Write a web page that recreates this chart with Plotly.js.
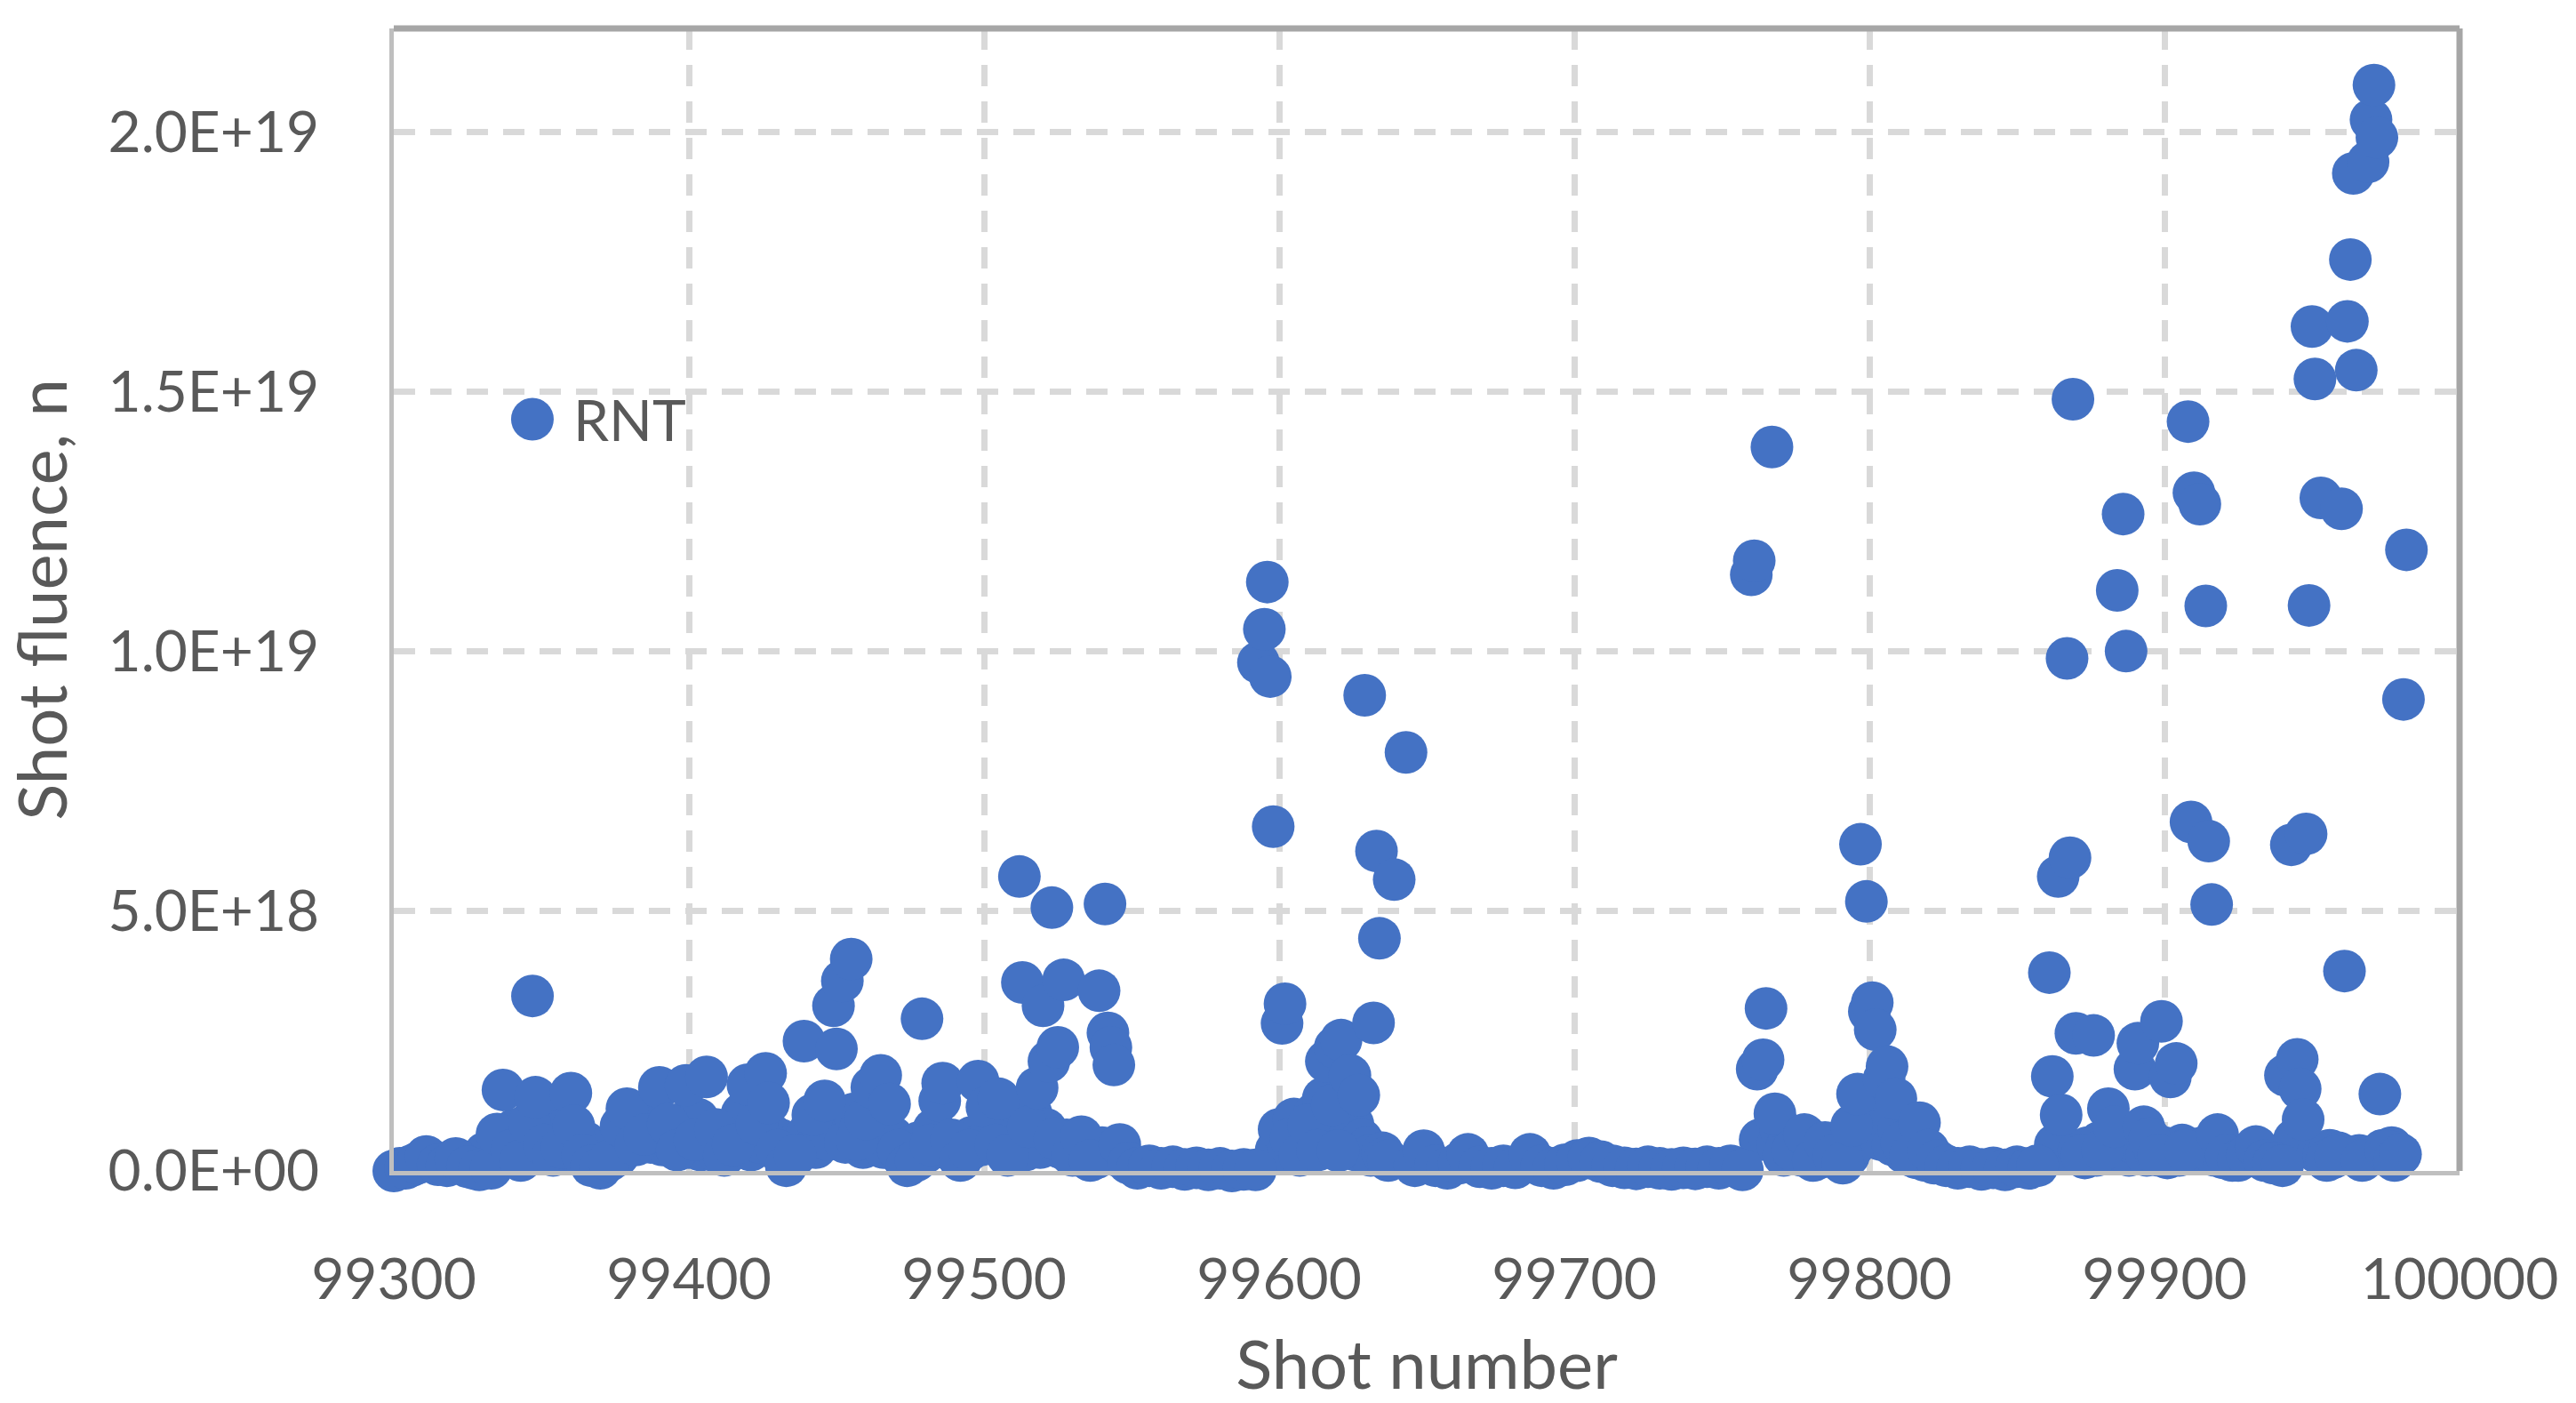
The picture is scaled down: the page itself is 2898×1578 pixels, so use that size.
<!DOCTYPE html>
<html>
<head>
<meta charset="utf-8">
<script src="https://cdn.plot.ly/plotly-3.0.1.min.js"></script>
<style>html,body{margin:0;padding:0;background:#fff;}#chart{width:2898px;height:1578px;}</style>
</head>
<body>
<div id="chart"></div>
<script>
// Shot numbers (x) and shot fluence in units of 1E18 n (y)
const shotNumber = [
  99300,99304,99308,99311,99315,99318,99321,99325,99329,99333,99335,99337,99340,99343,99346,99347,99348,99351,99354,99357,
  99360,99361,99364,99367,99370,99373,99377,99379,99382,99385,99390,99393,99396,99399,99402,99406,99409,99412,99415,99420,
  99423,99426,99427,99430,99433,99436,99439,99442,99446,99449,99450,99452,99455,99457,99460,99462,99465,99468,99471,99474,
  99477,99479,99482,99485,99486,99489,99492,99495,99498,99501,99504,99505,99508,99512,99513,99515,99518,99520,99522,99523,
  99524,99525,99527,99530,99533,99536,99539,99541,99542,99543,99544,99546,99549,99552,99556,99560,99564,99568,99572,99576,
  99580,99584,99588,99592,99593,99595,99596,99597,99598,99601,99602,99604,99607,99610,99613,99616,99618,99619,99620,99621,
  99624,99627,99629,99632,99633,99634,99637,99639,99643,99646,99649,99653,99657,99661,99664,99668,99672,99676,99680,99685,
  99689,99693,99697,99701,99705,99709,99713,99717,99721,99725,99729,99733,99737,99741,99745,99749,99753,99757,99760,99761,
  99762,99764,99765,99767,99768,99771,99774,99778,99781,99785,99788,99791,99794,99796,99797,99799,99800,99801,99802,99805,
  99806,99809,99811,99814,99817,99820,99823,99826,99830,99834,99838,99842,99846,99850,99854,99857,99861,99862,99864,99865,
  99867,99868,99869,99870,99872,99876,99879,99881,99883,99884,99886,99887,99890,99891,99893,99895,99898,99899,99902,99904,
  99907,99908,99909,99910,99912,99914,99915,99916,99918,99921,99925,99928,99931,99934,99937,99940,99941,99943,99945,99946,
  99947,99948,99949,99950,99951,99953,99955,99958,99960,99961,99962,99963,99964,99965,99967,99969,99970,99971,99972,99973,
  99975,99978,99980,99981,99982
];
const fluenceE18 = [
  0.00,0.05,0.15,0.28,0.12,0.10,0.24,0.08,0.02,0.05,0.71,1.56,0.40,0.20,0.92,3.37,1.42,0.50,0.30,0.45,
  1.50,0.87,0.30,0.10,0.05,0.20,0.86,1.20,0.50,0.70,1.61,0.90,0.40,1.65,0.60,1.81,0.80,0.30,0.50,1.66,
  0.90,1.88,1.31,0.40,0.10,0.30,2.50,1.08,1.35,3.18,2.35,3.66,4.08,0.60,1.00,1.61,1.84,1.29,0.40,0.10,
  0.20,2.93,0.50,1.35,1.69,0.60,0.20,0.40,1.73,1.23,0.50,1.39,0.30,5.67,3.63,0.85,1.60,3.18,2.11,5.07,
  0.62,2.38,3.68,0.30,0.66,0.20,3.47,5.14,2.66,2.38,2.04,0.51,0.15,0.05,0.10,0.05,0.08,0.03,0.06,0.02,
  0.05,0.00,0.03,0.02,9.79,10.43,11.34,9.52,6.63,2.84,3.22,0.62,0.30,0.89,0.40,2.11,1.27,2.38,0.39,2.52,
  1.84,1.46,9.16,2.85,6.16,4.48,0.20,5.61,8.06,0.10,0.39,0.10,0.05,0.15,0.32,0.08,0.05,0.10,0.06,0.32,
  0.10,0.05,0.12,0.20,0.25,0.18,0.10,0.06,0.04,0.08,0.05,0.03,0.06,0.04,0.08,0.05,0.10,0.02,11.48,11.75,
  1.96,2.14,3.13,13.94,1.10,0.30,0.40,0.70,0.20,0.55,0.30,0.15,0.87,1.48,6.29,5.19,3.07,3.24,2.72,1.77,
  2.01,1.39,0.55,0.30,0.93,0.40,0.20,0.10,0.05,0.08,0.03,0.06,0.02,0.08,0.05,0.10,3.82,1.82,5.67,1.08,
  9.87,6.03,14.86,2.65,0.30,2.61,0.40,1.20,0.85,11.18,12.65,10.01,1.96,2.46,0.85,0.62,0.30,2.88,1.81,2.07,
  0.40,14.43,6.72,13.06,12.84,10.88,6.35,5.13,0.70,0.30,0.20,0.30,0.47,0.20,0.15,0.10,1.84,6.28,2.15,1.58,
  0.99,6.49,10.89,16.26,15.25,12.96,0.20,0.28,12.75,3.85,16.36,17.55,19.21,15.42,0.20,19.43,20.24,20.91,19.90,1.48,
  0.39,0.20,0.32,9.08,11.96
];
// Further low-fluence shots that make up the dense band near zero
const lowShotNumber = [
  99302,99306,99313,99320,99323,99327,99331,99336,99338,99341,99344,99349,99352,99355,99358,99362,99365,99374,99376,99380,
  99383,99387,99388,99391,99394,99397,99400,99403,99404,99407,99410,99413,99417,99418,99421,99424,99428,99431,99434,99437,
  99440,99443,99444,99447,99451,99453,99456,99458,99459,99463,99466,99469,99472,99475,99478,99480,99483,99487,99490,99493,
  99496,99499,99502,99506,99509,99510,99514,99516,99517,99519,99521,99526,99528,99529,99531,99532,99534,99535,99537,99538,
  99540,99545,99547,99599,99600,99603,99605,99606,99608,99609,99611,99612,99614,99615,99617,99622,99623,99625,99626,99628,
  99630,99631,99635,99636,99763,99766,99769,99770,99772,99773,99775,99776,99777,99779,99780,99782,99783,99786,99787,99789,
  99792,99793,99795,99798,99803,99804,99807,99808,99810,99812,99813,99815,99816,99818,99819,99821,99822,99863,99866,99871,
  99873,99874,99877,99878,99880,99882,99885,99888,99889,99892,99894,99896,99897,99900,99901,99903,99905,99906,99911,99913,
  99917,99919,99920,99922,99923,99942,99944,99952,99954,99956,99957,99959,99966,99968,99974,99976,99977,99979
];
const lowFluenceE18 = [
  0.05,0.10,0.20,0.15,0.18,0.05,0.35,0.30,0.55,0.80,0.60,0.45,0.90,0.65,0.80,0.40,0.55,0.45,0.30,0.65,
  0.90,0.55,1.10,0.50,0.60,0.90,0.45,1.00,0.40,0.55,0.35,0.70,0.45,1.10,0.40,0.55,0.70,0.60,0.35,0.55,
  0.70,0.45,0.85,0.60,0.80,0.55,1.10,0.80,0.45,0.70,0.45,0.65,0.30,0.45,0.55,0.35,0.80,0.45,0.35,0.55,
  0.65,0.50,0.70,0.55,0.80,0.45,0.40,1.10,0.60,0.45,0.80,0.45,0.60,0.35,0.50,0.30,0.45,0.30,0.40,0.25,
  0.45,0.30,0.25,0.40,0.80,0.35,1.00,0.50,0.70,0.45,0.60,1.10,0.80,1.40,0.55,1.20,0.60,0.90,0.40,0.60,
  0.45,0.30,0.35,0.25,0.60,0.70,0.50,0.80,0.45,0.60,0.35,0.55,0.30,0.45,0.60,0.40,0.25,0.35,0.50,0.25,
  0.40,0.30,0.50,0.80,1.20,0.60,0.90,0.50,0.80,0.35,0.60,0.40,0.25,0.30,0.20,0.25,0.15,0.50,0.35,0.40,
  0.25,0.45,0.30,0.55,0.35,0.50,0.40,0.30,0.55,0.45,0.30,0.50,0.35,0.45,0.25,0.40,0.30,0.50,0.35,0.45,
  0.30,0.40,0.25,0.35,0.20,0.40,0.60,0.35,0.30,0.40,0.25,0.35,0.30,0.25,0.40,0.30,0.45,0.35
];
const seriesName = "RNT";
const xTickValues = [99300,99400,99500,99600,99700,99800,99900,100000];
const yTickValues = [0,5e18,1e19,1.5e19,2e19];
const yTickLabels = ["0.0E+00","5.0E+18","1.0E+19","1.5E+19","2.0E+19"];

const textColor = "#595959";
const fontFam = "Lato, 'Open Sans', sans-serif";

const allShots = lowShotNumber.concat(shotNumber);
const allFluence = lowFluenceE18.concat(fluenceE18).map(v => v * 1e18);

const trace = {
  type: "scatter",
  mode: "markers",
  name: seriesName,
  x: allShots,
  y: allFluence,
  cliponaxis: false,
  showlegend: false,
  marker: {color: "#4472c4", size: 48, line: {width: 0}}
};

const layout = {
  width: 2898, height: 1578,
  margin: {l: 443, r: 131, t: 32, b: 261, pad: 0},
  paper_bgcolor: "#ffffff", plot_bgcolor: "#ffffff",
  font: {family: fontFam, color: textColor, size: 64},
  showlegend: false,
  xaxis: {
    range: [99300, 100000], tickvals: xTickValues, tickformat: "d",
    showgrid: true, gridcolor: "#d9d9d9", gridwidth: 7, griddash: "24px,17px",
    zeroline: false, showline: true, linecolor: "#bfbfbf", linewidth: 5,
    ticks: "", ticklabelstandoff: 62, automargin: false,
    tickfont: {family: fontFam, size: 64, color: textColor},
    title: {text: "Shot number", font: {family: fontFam, size: 76, color: textColor}, standoff: 50}
  },
  yaxis: {
    range: [0, 2.2e19], tickvals: yTickValues, ticktext: yTickLabels,
    showgrid: true, gridcolor: "#d9d9d9", gridwidth: 7, griddash: "24px,17px",
    zeroline: false, showline: true, linecolor: "#bfbfbf", linewidth: 5,
    ticks: "", ticklabelstandoff: 66, automargin: false,
    tickfont: {family: fontFam, size: 64, color: textColor},
    title: {text: "Shot fluence, n", font: {family: fontFam, size: 76, color: textColor}, standoff: 40}
  },
  shapes: [
    {type: "line", xref: "paper", yref: "paper", x0: 0, x1: 1, y0: 1, y1: 1, line: {color: "#a6a6a6", width: 7}},
    {type: "line", xref: "paper", yref: "paper", x0: 1, x1: 1, y0: 0, y1: 1, line: {color: "#a6a6a6", width: 7}},
    {type: "circle", xref: "paper", yref: "paper", xsizemode: "pixel", ysizemode: "pixel",
     xanchor: 0.0671, yanchor: 0.658, x0: -24, x1: 24, y0: -24, y1: 24,
     fillcolor: "#4472c4", line: {width: 0}}
  ],
  annotations: [
    {xref: "paper", yref: "paper", x: 0.086, y: 0.658, xanchor: "left", yanchor: "middle",
     text: seriesName, showarrow: false, font: {family: fontFam, size: 64, color: textColor}}
  ]
};

Plotly.newPlot("chart", [trace], layout, {displayModeBar: false, staticPlot: true});
</script>
</body>
</html>
